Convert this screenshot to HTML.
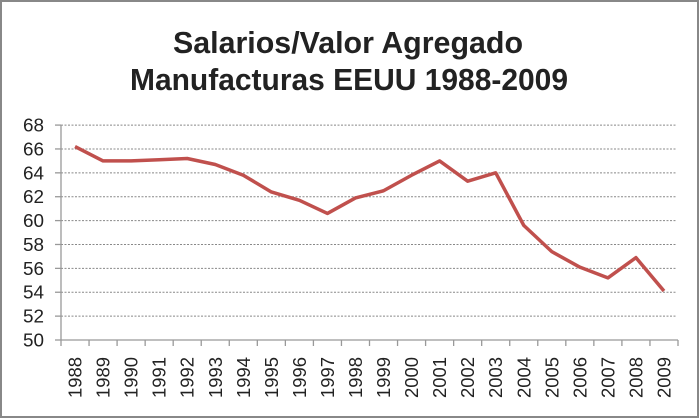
<!DOCTYPE html>
<html><head><meta charset="utf-8"><style>
html,body{margin:0;padding:0;background:#fff}
svg{display:block}
text{font-family:"Liberation Sans",sans-serif;fill:#222}
</style></head><body>
<svg width="700" height="419" viewBox="0 0 700 419" xmlns="http://www.w3.org/2000/svg">
<rect x="1" y="1" width="697" height="416" fill="#fff" stroke="#888" stroke-width="2"/>
<text x="348" y="53" font-size="31" font-weight="bold" text-anchor="middle" textLength="350" lengthAdjust="spacingAndGlyphs">Salarios/Valor Agregado</text>
<text x="349" y="90" font-size="31" font-weight="bold" text-anchor="middle" textLength="438" lengthAdjust="spacingAndGlyphs">Manufacturas EEUU 1988-2009</text>
<g id="grid" stroke="#888" stroke-width="1" stroke-dasharray="2,1.5"></g>
<g id="axes" stroke="#999" stroke-width="1.3"></g>
<g id="ylab" font-size="18" text-anchor="end"></g>
<g id="xlab" font-size="18"></g>
<polyline id="line" fill="none" stroke="#C0504D" stroke-width="3.5" stroke-linejoin="round"/>
</svg>
<script>
const v=[66.2,65,65,65.1,65.2,64.7,63.8,62.4,61.7,60.6,61.9,62.5,63.8,65,63.3,64,59.6,57.4,56.1,55.2,56.9,54.1];
const X0=61,X1=678,Y50=340,k=11.94,w=(X1-X0)/22;
const ns="http://www.w3.org/2000/svg";
function el(p,t,a,txt){const e=document.createElementNS(ns,t);for(const q in a)e.setAttribute(q,a[q]);if(txt)e.textContent=txt;document.getElementById(p).appendChild(e);}
for(let g=52;g<=68;g+=2){const y=Y50-(g-50)*k;el('grid','line',{x1:X0,x2:X1-2,y1:y,y2:y});}
for(let g=50;g<=68;g+=2){const y=Y50-(g-50)*k;el('ylab','text',{x:44,y:y+6.5,textLength:21,lengthAdjust:'spacingAndGlyphs'},String(g));el('axes','line',{x1:X0-6,x2:X0,y1:y,y2:y});}
el('axes','line',{x1:X0,x2:X0,y1:125,y2:Y50});
el('axes','line',{x1:X0,x2:X1,y1:Y50,y2:Y50});
for(let i=0;i<=22;i++){const x=X0+i*w;el('axes','line',{x1:x,x2:x,y1:Y50,y2:Y50+6});}
let pts=[];
for(let i=0;i<22;i++){const x=X0+w*(i+0.5);pts.push(x+','+(Y50-(v[i]-50)*k));
el('xlab','text',{x:0,y:0,textLength:41,lengthAdjust:'spacingAndGlyphs',transform:`translate(${x+6.5},${398}) rotate(-90)`},String(1988+i));}
document.getElementById('line').setAttribute('points',pts.join(' '));
</script>
</body></html>
